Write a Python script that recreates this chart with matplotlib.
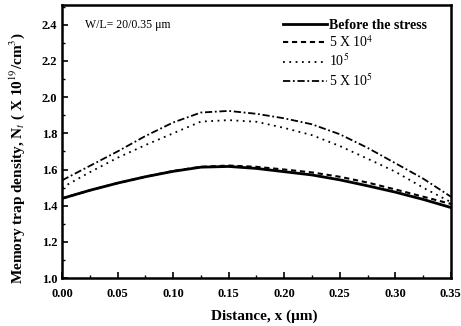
import matplotlib
matplotlib.use("Agg")
import matplotlib.pyplot as plt
from matplotlib.ticker import MultipleLocator

plt.rcParams['font.family'] = ['Liberation Serif', 'DejaVu Serif']
plt.rcParams['mathtext.fontset'] = 'stix'

distance = [0.0, 0.025, 0.05, 0.075, 0.10, 0.125, 0.15, 0.175, 0.20, 0.225, 0.25, 0.275, 0.30, 0.325, 0.35]
before = [1.44, 1.485, 1.525, 1.56, 1.59, 1.613, 1.617, 1.606, 1.588, 1.57, 1.543, 1.51, 1.475, 1.435, 1.39]
s5e4 = [1.44, 1.485, 1.525, 1.56, 1.592, 1.615, 1.622, 1.615, 1.60, 1.584, 1.56, 1.528, 1.49, 1.45, 1.41]
s1e5 = [1.50, 1.585, 1.665, 1.735, 1.80, 1.865, 1.873, 1.864, 1.83, 1.79, 1.73, 1.66, 1.588, 1.50, 1.42]
s5e5 = [1.54, 1.62, 1.70, 1.785, 1.86, 1.915, 1.924, 1.908, 1.883, 1.85, 1.795, 1.72, 1.635, 1.55, 1.45]
labels = ['Before the stress', '5 X 10$^4$', '10$^5$', '5 X 10$^5$']

fig = plt.figure(figsize=(4.61, 3.26), dpi=100)
ax = fig.add_axes([0.1345, 0.147, 0.978 - 0.1345, 0.985 - 0.147])

ax.plot(distance, before, color='black', lw=2.0, ls='-', label=labels[0])
ax.plot(distance, s5e4, color='black', lw=1.5, ls=(0, (2.5, 1.8)), label=labels[1])
ax.plot(distance, s1e5, color='black', lw=1.3, ls=(0, (1, 2.5)), label=labels[2])
ax.plot(distance, s5e5, color='black', lw=1.3, ls=(0, (4, 1.5, 1, 1.5)), label=labels[3])

ax.set_xlim(0.0, 0.35)
ax.set_ylim(1.0, 2.51)
ax.xaxis.set_major_locator(MultipleLocator(0.05))
ax.xaxis.set_minor_locator(MultipleLocator(0.025))
ax.yaxis.set_major_locator(MultipleLocator(0.2))
ax.yaxis.set_minor_locator(MultipleLocator(0.1))
ax.tick_params(which='both', direction='in', top=False, right=False, labelsize=9)
ax.tick_params(axis='x', which='major', pad=7)
ax.tick_params(which='major', length=4, width=1.2)
ax.tick_params(which='minor', length=2, width=1)
ax.xaxis.set_major_formatter(plt.FuncFormatter(lambda v, p: f"{v:.2f}"))
ax.yaxis.set_major_formatter(plt.FuncFormatter(lambda v, p: f"{v:.1f}"))
for lab in ax.get_xticklabels() + ax.get_yticklabels():
    lab.set_fontweight('bold')
for s in ax.spines.values():
    s.set_linewidth(1.8)

ax.set_xlabel('Distance, x (μm)', fontsize=11, fontweight='bold')
ax.set_ylabel('Memory trap density, N$_t$ ( X 10$^{19}$/cm$^3$)', fontsize=11, fontweight='bold')
ax.xaxis.set_label_coords(0.52, -0.115)
ax.yaxis.set_label_coords(-0.09, 0.44)

ax.text(0.059, 0.927, 'W/L= 20/0.35 μm', transform=ax.transAxes, fontsize=8.5, va='center', ha='left')

leg = ax.legend(loc='upper left', bbox_to_anchor=(0.568, 0.95), frameon=False, fontsize=10,
                handlelength=3.2, handletextpad=0.15, labelspacing=0.2, borderpad=0, borderaxespad=0)
leg.get_texts()[0].set_fontweight('bold')

fig.savefig('out.png', dpi=100)
